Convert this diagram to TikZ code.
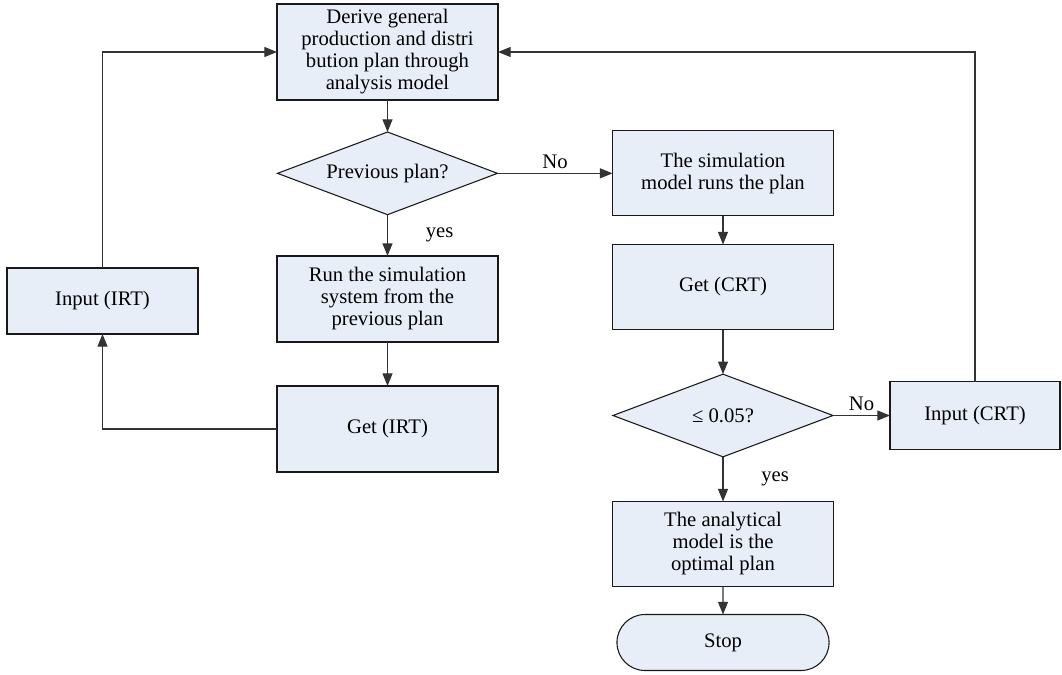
\documentclass[tikz,border=0pt]{standalone}
\usepackage{fontspec}
\setmainfont{Liberation Serif}
\usetikzlibrary{positioning, shapes.geometric, shapes.misc, arrows.meta}
\definecolor{boxfill}{RGB}{232,238,248}

\begin{document}
\begin{tikzpicture}[x=0.75pt, y=-0.75pt, font=\fontsize{15.5}{16.5}\selectfont,
	process/.style={rectangle, text centered, align=center, draw=black!90, fill=boxfill, line width=0.8pt, outer sep=0pt, minimum width=165.75pt, minimum height=63.75pt, inner sep=2pt},
	decision/.style={diamond, draw=black!90, fill=boxfill, line width=0.8pt, outer sep=0pt, aspect=2.6, inner sep=0pt, minimum width=165pt, minimum height=62pt},
	terminal/.style={rounded rectangle, draw=black!90, fill=boxfill, line width=0.8pt, outer sep=0pt, minimum width=165.75pt, minimum height=42pt},
	flow/.style={draw=black!80, line width=0.9pt, -{Triangle[length=9.5pt, width=7.5pt]}}]
	\useasboundingbox (0,0) rectangle (1062,674);
	\node[process, minimum height=72pt] (derive) at (387.5,52) {Derive general\\production and distri\\bution plan through\\analysis model};
	\node[decision] (previous) [below=24pt of derive] {Previous plan?};
	\node[process, minimum height=64.5pt] (rerun) [below=31pt of previous] {Run the simulation\\system from the\\previous plan};
	\node[process, minimum height=64.5pt] (getirt) [below=33pt of rerun] {Get (IRT)};
	\node[process, minimum width=143.25pt, minimum height=49.5pt] (inputirt) at (102.5,301) {Input (IRT)};
	\node[process] (simulate) [right=86.25pt of previous] {The simulation\\model runs the plan};
	\node[process] (getcrt) [below=21.5pt of simulate] {Get (CRT)};
	\node[decision] (check) [below=33.5pt of getcrt] {≤ 0.05?};
	\node[process, minimum width=127.5pt, minimum height=51pt] (inputcrt) [right=42.75pt of check] {Input (CRT)};
	\node[process] (optimal) [below=33.5pt of check] {The analytical\\model is the\\optimal plan};
	\node[terminal] (stop) [below=21pt of optimal] {Stop};
	\draw [flow] (derive) -- (previous);
	\draw [flow] (previous.east) -- (simulate.west) node[midway, above]{No};
	\draw [flow] (previous) -- (rerun) node[midway, right=25pt]{yes};
	\draw [flow] (rerun) -- (getirt);
	\draw [flow] (getirt.west) -| (inputirt.south);
	\draw [flow] (inputirt.north) |- (derive.west);
	\draw [flow] (simulate) -- (getcrt);
	\draw [flow] (getcrt) -- (check);
	\draw [flow] (check.east) -- (inputcrt.west) node[midway, above]{No};
	\draw [flow] (check) -- (optimal) node[midway, right=25pt]{yes};
	\draw [flow] (optimal) -- (stop);
	\draw [flow] (inputcrt.north) |- (derive.east);
\end{tikzpicture}
\end{document}
